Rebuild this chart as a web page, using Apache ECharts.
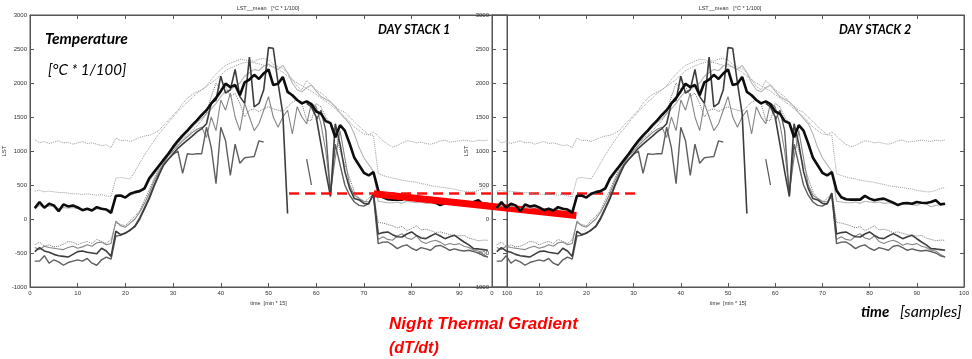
<!DOCTYPE html>
<html><head><meta charset="utf-8">
<script src="https://cdn.jsdelivr.net/npm/echarts@6/dist/echarts.min.js"></script>
<style>html,body{margin:0;padding:0;background:#fff}#c{width:972px;height:359px}</style>
</head><body><div id="c"></div>
<script>
// sample numbers are 1..96 (index + 1)
const meanLST = [160,250,165,225,200,115,215,185,200,170,
 130,150,125,175,150,140,90,340,345,315,
 370,395,410,450,600,690,780,870,960,1060,
 1150,1230,1300,1380,1450,1530,1600,1700,1780,1880,
 1990,1940,1970,1820,2010,2050,2120,2060,2140,2200,
 1970,1990,2090,1870,1820,1750,1700,1730,1690,1580,
 1550,1440,1410,1200,1380,1300,1110,900,790,680,
 640,690,420,320,290,285,285,285,340,300,
 275,290,300,270,240,205,230,235,225,250,
 240,235,250,275,215,225];
const dotTop = [1170,1120,1140,1110,1130,1150,1120,1130,1100,1120,
 1140,1110,1120,1100,1080,1090,1050,1190,1150,1160,
 1140,1170,1200,1220,1230,1260,1300,1380,1450,1530,
 1600,1700,1780,1830,1870,1900,1960,2050,2130,2200,
 2260,2290,2320,2350,2340,2330,2320,2350,2360,2340,
 2270,2240,2210,2150,2050,1950,1900,2040,1970,1900,
 1850,1800,1720,1660,1600,1570,1500,1430,1360,1300,
 1240,1280,1220,1150,1100,1060,1080,1120,1150,1140,
 1120,1130,1110,1100,1120,1150,1160,1130,1140,1150,
 1160,1150,1140,1160,1150,1160];
const dotSecond = [410,420,400,410,400,390,390,380,370,370,
 360,370,360,350,360,340,330,600,610,600,
 590,700,820,940,1050,1150,1250,1330,1420,1500,
 1580,1650,1720,1780,1850,1900,1950,2000,2050,2120,
 2180,2220,2250,2280,2300,2310,2300,2280,2260,2250,
 2240,2200,2160,2100,2050,2000,1960,1920,1880,1830,
 1780,1730,1680,1620,1560,1500,1430,1350,1300,1250,
 1240,1230,670,640,620,600,590,570,560,550,
 540,520,510,490,480,470,460,450,440,420,
 410,400,400,420,450,460];
const lightLine = [150,200,170,190,180,150,170,160,170,150,
 140,140,130,150,140,140,130,350,330,320,
 350,380,400,430,560,660,760,850,940,1030,
 1120,1200,1280,1350,1420,1480,1550,1620,1700,1800,
 1880,1900,1950,2000,2100,2150,2200,2180,2250,2280,
 2230,2200,2260,2150,2000,1900,1870,1930,1970,1880,
 1800,1760,1720,1650,1560,1480,1400,1250,1050,900,
 800,700,260,250,240,240,250,230,260,250,
 240,250,230,240,220,210,230,220,210,200,
 230,220,180,200,210,220];
const darkLine = [-480,-420,-470,-490,-520,-540,-550,-560,-520,-480,
 -470,-490,-500,-510,-430,-470,-550,-180,-230,-210,
 -160,-110,0,150,300,480,640,790,880,960,
 1040,1100,1160,1220,1280,1330,1400,1700,1750,2100,
 1850,1900,2200,1800,1700,2380,1650,1700,1900,2520,
 2510,2000,1550,80,null,null,null,1700,1650,1500,
 1100,700,330,1400,1100,700,450,300,280,230,
 220,380,-220,-200,-190,-230,-260,-264,-220,-190,
 -240,-280,-289,-250,-215,-250,-289,-260,-240,-290,
 -338,-380,-435,-440,-450,-460];
const grayLow = [-620,-620,-540,-650,-600,-630,-680,-640,-620,-600,
 -620,-580,-650,-680,-600,-560,-590,-250,-240,-200,
 -170,-100,20,170,320,500,660,800,880,950,
 1000,670,960,950,960,960,1350,1050,520,1350,
 1150,640,1100,820,900,910,920,1150,1130,null,
 null,null,null,null,null,null,null,null,null,1450,
 1600,1300,350,1100,800,500,350,250,200,190,
 230,350,-362,-340,-338,-380,-435,-400,-380,-430,
 -460,-420,-440,-460,-400,-387,-420,-460,-440,-460,
 -470,-460,-480,-500,-540,-560];
const grayMid = [-420,-450,-400,-420,-430,-440,-450,-420,-400,-430,
 -410,-380,-400,-350,-340,-380,-360,-30,-100,-120,
 -60,0,100,230,380,560,700,820,930,1000,
 1080,1150,1210,1270,1320,1350,1200,1500,1300,1750,
 1600,1850,1500,1300,1700,1500,1300,1400,1600,1800,
 1500,1350,1500,1600,1250,1650,1500,1400,1700,1650,
 1400,1000,400,900,1300,900,500,350,300,260,
 250,330,-300,-260,-300,-313,-250,-215,-280,-300,
 -250,-330,-362,-330,-313,-340,-387,-360,-380,-362,
 -400,-420,-460,-470,-520,-558];
const dotLow = [-380,-340,-400,-380,-410,-400,-370,-330,-340,-380,
 -350,-330,-360,-300,-330,-360,-300,-60,-80,-100,
 -20,40,120,280,430,600,740,860,950,1030,
 1110,1180,1240,1300,1370,1450,1550,1800,2000,1900,
 1950,1800,1850,1700,1500,1600,1620,1580,1620,1650,
 1620,1600,1580,1650,1720,1750,1700,1450,1450,1700,
 1650,1500,1400,1300,1000,800,600,400,300,250,
 300,380,-50,-60,-80,-100,-130,-110,-170,-140,
 -100,-160,-150,-170,-200,-190,-210,-230,-240,-250,
 -240,-280,-300,-320,-310,-313];
const shortSegX = [58, 59];
const shortSegY = [880, 500];
// red annotation lines (x in left-panel sample units, continued past 100 into panel 2)
const gradDashX = [55, 128.5];
const gradDashY = [375, 375];
const gradSlopeX = [73, 116];
const gradSlopeY = [370, 50];
const xTicks = [0,10,20,30,40,50,60,70,80,90,100];
const yTicks = [-1000,-500,0,500,1000,1500,2000,2500,3000];

const chart = echarts.init(document.getElementById('c'), null, {renderer:'canvas'});
const toPts = arr => arr.map((v,i)=>[i+1, v]);
const pair = (xs, ys) => xs.map((x,i)=>[x, ys[i]]);

const axisFont = {fontSize:6, color:'#333', fontFamily:'Liberation Sans'};
function xAx(grid, top){
  return {type:'value', gridIndex:grid, min:xTicks[0], max:xTicks[xTicks.length-1], interval:10,
    position: top?'top':'bottom',
    axisLine:{show:true, onZero:false, lineStyle:{color:'#555', width:1}},
    axisTick:{show:true, inside:true, length:4, lineStyle:{color:'#555'}},
    axisLabel: top?{show:false}:Object.assign({margin:3}, axisFont),
    splitLine:{show:false},
    name: top?'':'time  [min * 15]', nameLocation:'middle', nameGap:10,
    nameTextStyle:{fontSize:5.5, color:'#333', fontFamily:'Liberation Sans'}};
}
function yAx(grid, right){
  return {type:'value', gridIndex:grid, min:yTicks[0], max:yTicks[yTicks.length-1], interval:500,
    position: right?'right':'left',
    axisLine:{show:true, onZero:false, lineStyle:{color:'#555', width:1}},
    axisTick:{show:true, inside:true, length:4, lineStyle:{color:'#555'}},
    axisLabel: right?{show:false}:Object.assign({margin:3, formatter: v => String(v)}, axisFont),
    splitLine:{show:false},
    name: right?'':'LST', nameLocation:'middle', nameGap: grid===0?19:20, nameRotate:90,
    nameTextStyle:{fontSize:6, color:'#333', fontFamily:'Liberation Sans'}};
}
// hidden overlay axes spanning both panels (same scale as panel 1) for the red gradient lines
const hiddenX = {type:'value', gridIndex:2, min:0, max:200, show:false, splitLine:{show:false}};
const hiddenY = {type:'value', gridIndex:2, min:yTicks[0], max:yTicks[yTicks.length-1], show:false, splitLine:{show:false}};

function panelSeries(xi, yi, z){
  const mk = (data, color, width, type) => ({type:'line', xAxisIndex:xi, yAxisIndex:yi, data,
    symbol:'none', connectNulls:false, z, silent:true, animation:false,
    lineStyle:{color, width, type:type||'solid'}});
  return [
    mk(toPts(dotTop), '#9a9a9a', 1, 'dotted'),
    mk(toPts(dotSecond), '#9a9a9a', 1, 'dotted'),
    mk(toPts(lightLine), '#b4b4b4', 1.1),
    mk(toPts(dotLow), '#777777', 1, 'dotted'),
    mk(toPts(grayMid), '#858585', 1.1),
    mk(toPts(grayLow), '#5e5e5e', 1.4),
    mk(toPts(darkLine), '#3d3d3d', 1.6),
    mk(pair(shortSegX, shortSegY), '#555555', 1.2),
    mk(toPts(meanLST), '#0d0d0d', 2.6)
  ];
}

const series = [].concat(
  panelSeries(0, 0, 2),
  [
    {type:'line', xAxisIndex:4, yAxisIndex:4, data:pair(gradSlopeX, gradSlopeY), symbol:'none', z:3, animation:false, silent:true,
      lineStyle:{color:'#ff0000', width:7, cap:'butt'}},
    {type:'line', xAxisIndex:4, yAxisIndex:4, data:pair(gradDashX, gradDashY), symbol:'none', z:3, animation:false, silent:true,
      lineStyle:{color:'#ff1010', width:2.4, type:[10,6]}}
  ],
  panelSeries(2, 2, 4)
);

const txt = (x, y, text, o) => ({type:'text', x, y, z:10, silent:true,
  style:Object.assign({text, fill:'#000', align:'left', verticalAlign:'middle', fontFamily:'Lato'}, o)});

chart.setOption({
  animation:false,
  backgroundColor:'#ffffff',
  grid:[
    {left:30, top:15, width:477, height:272, show:true, borderColor:'#555', borderWidth:1, backgroundColor:'rgba(0,0,0,0)'},
    {left:492, top:15, width:477, height:272, show:true, borderColor:'#555', borderWidth:1, backgroundColor:'rgba(0,0,0,0)'},
    {left:30, top:15, width:954, height:272, show:false}
  ],
  xAxis:[xAx(0,false), xAx(0,true), xAx(1,false), xAx(1,true), hiddenX],
  yAxis:[yAx(0,false), yAx(0,true), yAx(1,false), yAx(1,true), hiddenY],
  series,
  graphic:[
    txt(268, 8, 'LST__mean   [°C * 1/100]', {fontSize:5.5, fill:'#333', align:'center', fontFamily:'Liberation Sans'}),
    txt(730, 8, 'LST__mean   [°C * 1/100]', {fontSize:5.5, fill:'#333', align:'center', fontFamily:'Liberation Sans'}),
    txt(45, 39, 'Temperature', {fontSize:15.5, fontWeight:'bold', fontStyle:'italic'}),
    txt(48, 70, '[°C * 1/100]', {fontSize:15, fontStyle:'italic'}),
    txt(378, 30, 'DAY STACK 1', {fontSize:12.5, fontWeight:'bold', fontStyle:'italic'}),
    txt(839, 30, 'DAY STACK 2', {fontSize:12.5, fontWeight:'bold', fontStyle:'italic'}),
    txt(861, 312, 'time', {fontSize:15, fontWeight:'bold', fontStyle:'italic'}),
    txt(900, 312, '[samples]', {fontSize:16, fontStyle:'italic'}),
    txt(389, 324, 'Night Thermal Gradient', {fontSize:17, fontWeight:'bold', fontStyle:'italic', fill:'#ff0000', fontFamily:'Liberation Sans'}),
    txt(389, 349, '(dT/dt)', {fontSize:16, fontWeight:'bold', fontStyle:'italic', fill:'#ff0000', fontFamily:'Liberation Sans'})
  ]
});
</script></body></html>
